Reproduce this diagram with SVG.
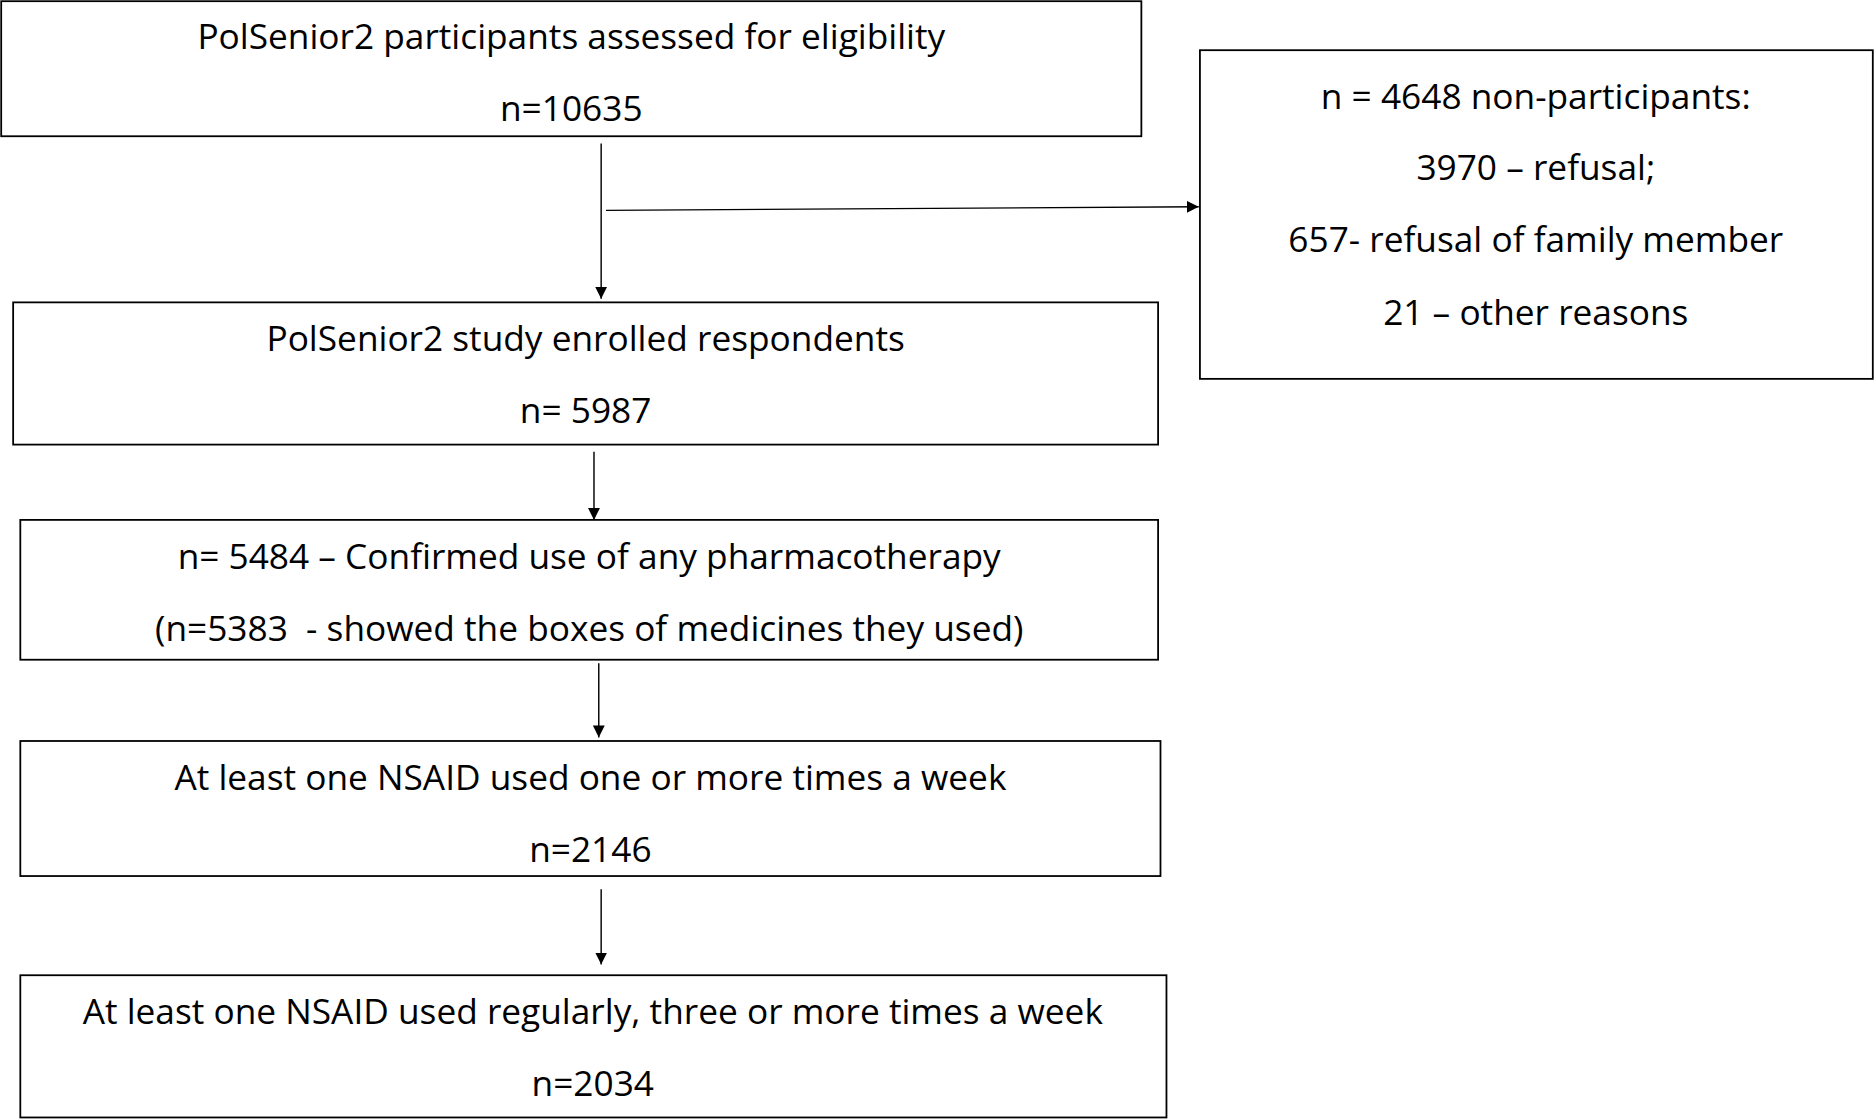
<svg xmlns="http://www.w3.org/2000/svg" width="1874" height="1120" viewBox="0 0 1874 1120">
<style>
.b{fill:#fff;stroke:#000;stroke-width:1.5}
.t{font-family:"Open Sans","Liberation Sans",sans-serif;font-size:29.5px;fill:#000;text-anchor:middle;white-space:pre}
.c{stroke:#000;stroke-width:1.2;fill:none;marker-end:url(#a)}
</style>
<defs><marker id="a" viewBox="0 0 10 10" refX="10" refY="5" markerWidth="10" markerHeight="10" markerUnits="userSpaceOnUse" orient="auto"><path d="M0,0L10,5L0,10z" fill="#000"/></marker></defs>
<rect width="1874" height="1120" fill="#fff"/>
<g transform="scale(1.19515)">
<g id="n1"><rect class="b" x="1" y="1" width="954" height="113"/><text class="t" x="478" y="41">PolSenior2 participants assessed for eligibility</text><text class="t" x="478" y="101">n=10635</text></g>
<g id="n2"><rect class="b" x="1004" y="42" width="563" height="275"/><text class="t" x="1285" y="91">n = 4648 non-participants:</text><text class="t" x="1285" y="151">3970 – refusal;</text><text class="t" x="1285" y="211">657- refusal of family member</text><text class="t" x="1285" y="272">21 – other reasons</text></g>
<g id="n3"><rect class="b" x="11" y="253" width="958" height="119"/><text class="t" x="490" y="294">PolSenior2 study enrolled respondents</text><text class="t" x="490" y="354">n= 5987</text></g>
<g id="n4"><rect class="b" x="17" y="435" width="952" height="117"/><text class="t" x="493" y="476">n= 5484 – Confirmed use of any pharmacotherapy</text><text class="t" xml:space="preserve" x="493" y="536">(n=5383  - showed the boxes of medicines they used)</text></g>
<g id="n5"><rect class="b" x="17" y="620" width="954" height="113"/><text class="t" x="494" y="661">At least one NSAID used one or more times a week</text><text class="t" x="494" y="721">n=2146</text></g>
<g id="n6"><rect class="b" x="17" y="816" width="959" height="119"/><text class="t" x="496" y="857">At least one NSAID used regularly, three or more times a week</text><text class="t" x="496" y="917">n=2034</text></g>
<g id="connectors">
<path class="c" d="M503,120V250"/>
<path class="c" d="M507,176L1003,173"/>
<path class="c" d="M497,378V435"/>
<path class="c" d="M501,555V617"/>
<path class="c" d="M503,744V807"/>
</g>
</g>
</svg>
